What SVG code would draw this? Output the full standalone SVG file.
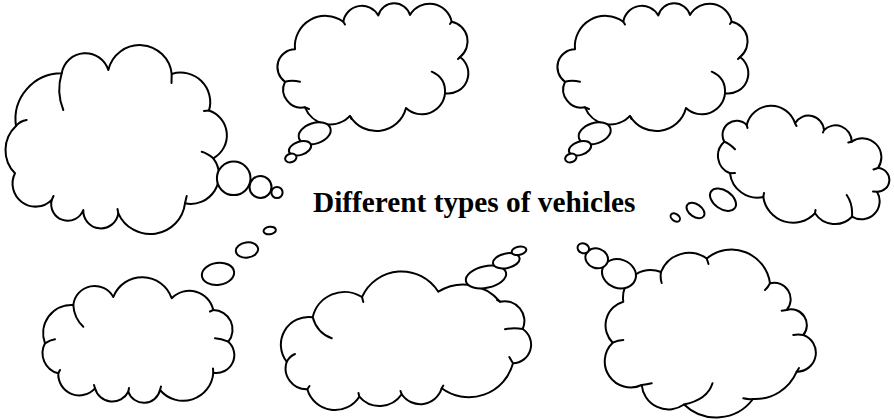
<svg xmlns="http://www.w3.org/2000/svg" width="894" height="420" viewBox="0 0 894 420">
<style>
.c{fill:#fff;stroke:#000;stroke-width:2;stroke-linejoin:round}
.k{fill:none;stroke:#000;stroke-width:2;stroke-linecap:round}
.t{font-family:"Liberation Serif","Times New Roman",serif;font-weight:bold;font-size:29.3px;fill:#000}
</style>
<rect width="894" height="420" fill="#fff"/>
<g id="cloud1">
<path class="c" d="M16,126 A46,46 0 0 1 61.7,73.3 A24,24 0 0 1 108.3,70 A32.2,32.2 0 0 1 171.7,74 A29.5,29.5 0 0 1 209,110.5 A26.2,26.2 0 0 1 213.3,158.3 A28.4,28.4 0 0 1 185,203.3 A35,35 0 0 1 118.3,213.3 A17.6,17.6 0 0 1 83.3,210 A16.6,16.6 0 0 1 51.7,200 A23,23 0 0 1 15,173.3 A33,33 0 0 1 16,126 Z"/>
<path class="k" d="M16,126 Q20,121 26.7,120 M61.7,73.3 Q56,92 63.3,110 M171.7,74 L171.5,83 M209,110.5 L204,111 M213.3,158.3 Q207,153 201.7,151.7 M185,203.3 Q186,199 186.7,196 M118.3,213.3 L117.5,209 M51.7,200 L53.5,196"/>
<circle class="c" cx="233.7" cy="178.3" r="16.8"/>
<circle class="c" cx="260.5" cy="187" r="11"/>
<circle class="c" cx="277" cy="192.5" r="5.6"/>
</g>
<g id="cloud2">
<path class="c" d="M295,49.3 A30.5,30.5 0 0 1 343.3,21.7 A18.8,18.8 0 0 1 378.3,15.5 A16.5,16.5 0 0 1 410,15 A22.6,22.6 0 0 1 451.7,21.7 A20,20 0 0 1 460,57 A20.2,20.2 0 0 1 445,93.3 A23.2,23.2 0 0 1 406,108 A30.6,30.6 0 0 1 350,116 A27.2,27.2 0 0 1 305,107.3 A18.2,18.2 0 0 1 285,81.7 A17.8,17.8 0 0 1 295,49.3 Z"/>
<path class="k" d="M445,93.3 Q446,78 431.7,71.7 M285,81.7 Q292,80 300,81.7 M343.3,21.7 L345,24.5 M451.7,21.7 L450,24 M460,57 L458,59 M350,116 L351.5,119 M305,107.3 L309,109"/>
<ellipse class="c" cx="314.7" cy="133.3" rx="16.5" ry="10.3" transform="rotate(-18 314.7 133.3)"/>
<ellipse class="c" cx="300" cy="148.3" rx="11.5" ry="6.6" transform="rotate(-18 300 148.3)"/>
<ellipse class="c" cx="290.8" cy="158" rx="5.8" ry="4.2" transform="rotate(-18 290.8 158)"/>
</g>
<g id="cloud3" transform="translate(280,0)">
<path class="c" d="M295,49.3 A30.5,30.5 0 0 1 343.3,21.7 A18.8,18.8 0 0 1 378.3,15.5 A16.5,16.5 0 0 1 410,15 A22.6,22.6 0 0 1 451.7,21.7 A20,20 0 0 1 460,57 A20.2,20.2 0 0 1 445,93.3 A23.2,23.2 0 0 1 406,108 A30.6,30.6 0 0 1 350,116 A27.2,27.2 0 0 1 305,107.3 A18.2,18.2 0 0 1 285,81.7 A17.8,17.8 0 0 1 295,49.3 Z"/>
<path class="k" d="M445,93.3 Q446,78 431.7,71.7 M285,81.7 Q292,80 300,81.7 M343.3,21.7 L345,24.5 M451.7,21.7 L450,24 M460,57 L458,59 M350,116 L351.5,119 M305,107.3 L309,109"/>
<ellipse class="c" cx="314.7" cy="133.3" rx="16.5" ry="10.3" transform="rotate(-18 314.7 133.3)"/>
<ellipse class="c" cx="300" cy="148.3" rx="11.5" ry="6.6" transform="rotate(-18 300 148.3)"/>
<ellipse class="c" cx="290.8" cy="158" rx="5.8" ry="4.2" transform="rotate(-18 290.8 158)"/>
</g>
<g id="cloud4">
<path class="c" d="M724.3,141.7 A14.1,14.1 0 0 1 746.7,125 A25.1,25.1 0 0 1 795,123.3 A15.6,15.6 0 0 1 824,130 A16.3,16.3 0 0 1 851.7,141.7 A18.9,18.9 0 0 1 878,168 A11.8,11.8 0 0 1 877,191.7 A18.2,18.2 0 0 1 852,216.7 A23.7,23.7 0 0 1 815,213.3 A30.1,30.1 0 0 1 763.3,197 A27.7,27.7 0 0 1 730,173.3 A18.8,18.8 0 0 1 724.3,141.7 Z"/>
<path class="k" d="M724.3,141.7 Q729,143 735,149.3 M746.7,125 L747.5,128 M795,123.3 L796.5,126 M824,130 L823,132.5 M851.7,141.7 L848.3,142.5 M878,168 L873.5,169.5 M877,191.7 L873,191.5 M852,216.7 Q853,204 846.7,195 M815,213.3 L815.5,210 M763.3,197 L764,193 M730,173.3 L735,173"/>
<ellipse class="c" cx="723" cy="199.7" rx="14.5" ry="9.2" transform="rotate(35 723 199.7)"/>
<ellipse class="c" cx="695.5" cy="210.5" rx="10" ry="6.3" transform="rotate(35 695.5 210.5)"/>
<ellipse class="c" cx="675.3" cy="217.5" rx="5.2" ry="3.5" transform="rotate(35 675.3 217.5)"/>
</g>
<g id="cloud5">
<path class="c" d="M73.3,305 A21.4,21.4 0 0 1 113.3,297 A31.1,31.1 0 0 1 171.7,298.3 A24.5,24.5 0 0 1 213.3,310 A19.5,19.5 0 0 1 228.3,341.7 A17.9,17.9 0 0 1 213.3,372.7 A30.2,30.2 0 0 1 160,390 A16.5,16.5 0 0 1 128.3,391.7 A17.9,17.9 0 0 1 95,388.3 A21,21 0 0 1 58.3,373.3 A20.8,20.8 0 0 1 45,343.3 A28.3,28.3 0 0 1 73.3,305 Z"/>
<path class="k" d="M73.3,305 Q74,318 83.3,326.7 M213.3,310 L210,311.5 M228.3,341.7 Q221,338.5 215,338.3 M213.3,372.7 L213,368.5 M160,390 L161,386.5 M128.3,391.7 L129,388 M95,388.3 L94,385 M58.3,373.3 L60,370 M45,343.3 Q50,340 55,339.3"/>
<ellipse class="c" cx="218" cy="273.8" rx="16.2" ry="11" transform="rotate(-8 218 273.8)"/>
<ellipse class="c" cx="247" cy="250" rx="11.2" ry="7.6" transform="rotate(-8 247 250)"/>
<ellipse class="c" cx="269.7" cy="230.5" rx="6.2" ry="3.8" transform="rotate(-8 269.7 230.5)"/>
</g>
<g id="cloud6">
<path class="c" d="M312.7,317.3 A32.6,32.6 0 0 1 362,297 A43.4,43.4 0 0 1 438.3,291.7 A47.6,47.6 0 0 1 500,301.7 A19.8,19.8 0 0 1 522.7,329 A18.7,18.7 0 0 1 513,363.3 A45.7,45.7 0 0 1 441.7,388.3 A22.4,22.4 0 0 1 401.7,394.3 A26.7,26.7 0 0 1 359.3,396.7 A28.8,28.8 0 0 1 307.3,389.3 A21,21 0 0 1 286.7,361.7 A27.7,27.7 0 0 1 312.7,317.3 Z"/>
<path class="k" d="M312.7,317.3 Q317,333 331.7,338.3 M362,297 L363.3,302 M500,301.7 L497,300 M522.7,329 Q513,327.5 505,329.3 M513,363.3 Q511,360 509.3,357 M441.7,388.3 L443.3,385.5 M401.7,394.3 L400.5,391 M359.3,396.7 L358.5,393 M307.3,389.3 L309.5,386 M286.7,361.7 Q290,356 295,354"/>
<ellipse class="c" cx="486" cy="277" rx="20.5" ry="10.8" transform="rotate(-12 486 277)"/>
<ellipse class="c" cx="506.3" cy="260.8" rx="13.5" ry="7.3" transform="rotate(-12 506.3 260.8)"/>
<ellipse class="c" cx="519" cy="250.8" rx="7.4" ry="4.1" transform="rotate(-12 519 250.8)"/>
</g>
<g id="cloud7">
<path class="c" d="M623.3,301.7 A27.6,27.6 0 0 1 661,272 A30.3,30.3 0 0 1 706.7,258.5 A38.9,38.9 0 0 1 770,283.3 A16.5,16.5 0 0 1 786.7,310 A15.7,15.7 0 0 1 803.3,335 A18.9,18.9 0 0 1 796.7,371.7 A45,45 0 0 1 753,399 A46.2,46.2 0 0 1 684,404.5 A26.9,26.9 0 0 1 641.7,385 A26,26 0 0 1 612.7,342.7 A24.6,24.6 0 0 1 623.3,301.7 Z"/>
<path class="k" d="M661,272 Q660,278 661.7,283 M706.7,258.5 L708.5,264 M770,283.3 Q768,287.5 765,290 M786.7,310 L781.7,310.7 M803.3,335 Q798,334 793.3,335 M796.7,371.7 L799,368 M753,399 Q748,399.5 743.3,398.3 M684,404.5 Q707.4,399.8 712.5,383.3 M641.7,385 Q647,384.5 651.7,383.3 M612.7,342.7 Q618,340 623.3,340"/>
<ellipse class="c" cx="619" cy="273.8" rx="17.3" ry="14.3" transform="rotate(20 619 273.8)"/>
<ellipse class="c" cx="596.7" cy="258.3" rx="11.5" ry="9.8" transform="rotate(20 596.7 258.3)"/>
<ellipse class="c" cx="583.3" cy="248.3" rx="5.9" ry="4.9" transform="rotate(20 583.3 248.3)"/>
</g>
<g id="connectors"></g>
<g id="title">
<text class="t" x="313" y="212">Different types of vehicles</text>
</g>
</svg>
